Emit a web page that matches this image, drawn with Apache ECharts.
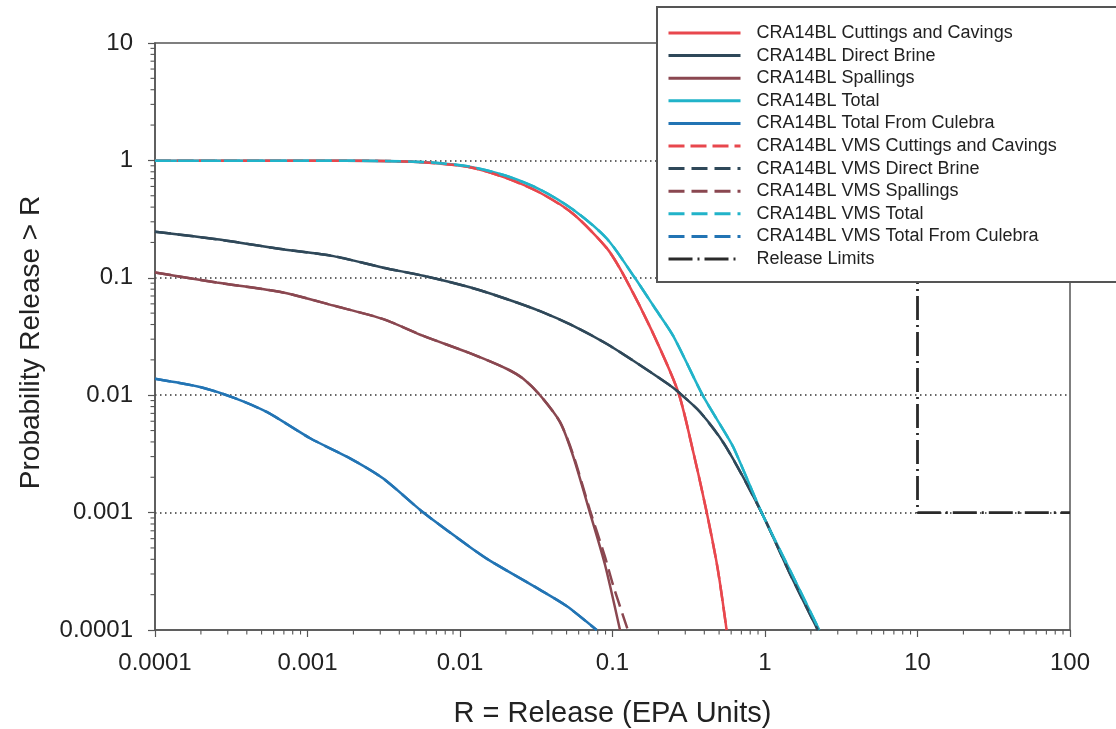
<!DOCTYPE html>
<html><head><meta charset="utf-8">
<script src="https://cdn.jsdelivr.net/npm/echarts@6/dist/echarts.min.js"></script>
<style>html,body{margin:0;padding:0;background:#fff}#c{width:1116px;height:729px}</style>
</head><body><div id="c"></div>
<script>
const xTickLabels = ['0.0001','0.001','0.01','0.1','1','10','100'];
const yTickLabels = ['0.0001','0.001','0.01','0.1','1','10'];
const xAxisTitle = 'R = Release (EPA Units)';
const yAxisTitle = 'Probability Release > R';

const seriesNames = [
  'CRA14BL Cuttings and Cavings','CRA14BL Direct Brine','CRA14BL Spallings','CRA14BL Total',
  'CRA14BL Total From Culebra','CRA14BL VMS Cuttings and Cavings','CRA14BL VMS Direct Brine',
  'CRA14BL VMS Spallings','CRA14BL VMS Total','CRA14BL VMS Total From Culebra','Release Limits'
];

const cuttingsCavings = [[1e-4,0.995],[1e-3,0.995],[3e-3,0.99],[6e-3,0.96],[0.0116,0.875],[0.02,0.71],[0.0335,0.53],[0.0553,0.35],[0.092,0.178],[0.121,0.1],[0.18,0.036],[0.27,0.0106],[0.34,0.0032],[0.415,0.001],[0.49,0.00033],[0.56,0.0001]];
const directBrine = [[1e-4,0.247],[2.54e-4,0.213],[6.9e-4,0.175],[1.48e-3,0.153],[3.14e-3,0.122],[5.75e-3,0.104],[0.0116,0.083],[0.0202,0.066],[0.0335,0.052],[0.0553,0.039],[0.092,0.0273],[0.151,0.0181],[0.23,0.0125],[0.269,0.0107],[0.375,0.0072],[0.55,0.0037],[0.95,0.001],[1.46,0.0003],[2.22,0.0001]];
const spallings = [[1e-4,0.111],[2.54e-4,0.091],[6.9e-4,0.075],[1.48e-3,0.058],[3.14e-3,0.0445],[5.75e-3,0.032],[0.0116,0.0228],[0.0202,0.0168],[0.026,0.0138],[0.0335,0.0100],[0.0453,0.0059],[0.0553,0.0030],[0.0711,0.001],[0.0893,0.00036],[0.112,0.0001]];
const total = [[1e-4,0.995],[1e-3,0.995],[3e-3,0.99],[6e-3,0.965],[0.0116,0.885],[0.02,0.74],[0.0335,0.565],[0.0553,0.38],[0.092,0.215],[0.14,0.1],[0.19,0.055],[0.25,0.032],[0.39,0.01],[0.5,0.0058],[0.62,0.0036],[0.95,0.001],[1.5,0.0003],[2.27,0.0001]];
const totalCulebra = [[1e-4,0.0138],[2e-4,0.0117],[3.3e-4,0.0095],[5.4e-4,0.0072],[1.04e-3,0.0043],[1.9e-3,0.0029],[3.14e-3,0.00195],[5.75e-3,0.001],[0.0116,0.00051],[0.0157,0.00039],[0.0335,0.00022],[0.05,0.00016],[0.0787,0.0001]];
const vmsCuttingsCavings = [[1e-4,0.995],[1e-3,0.995],[3e-3,0.99],[6e-3,0.96],[0.0116,0.875],[0.02,0.71],[0.0335,0.53],[0.0553,0.35],[0.092,0.178],[0.121,0.1],[0.18,0.036],[0.27,0.0106],[0.34,0.0032],[0.415,0.001],[0.49,0.00033],[0.56,0.0001]];
const vmsDirectBrine = [[1e-4,0.247],[2.54e-4,0.213],[6.9e-4,0.175],[1.48e-3,0.153],[3.14e-3,0.122],[5.75e-3,0.104],[0.0116,0.083],[0.0202,0.066],[0.0335,0.052],[0.0553,0.039],[0.092,0.0273],[0.151,0.0181],[0.23,0.0125],[0.269,0.0107],[0.375,0.0072],[0.55,0.0037],[0.95,0.001],[1.46,0.0003],[2.22,0.0001]];
const vmsSpallings = [[1e-4,0.111],[2.54e-4,0.091],[6.9e-4,0.075],[1.48e-3,0.058],[3.14e-3,0.0445],[5.75e-3,0.032],[0.0116,0.0228],[0.0202,0.0168],[0.026,0.0138],[0.0335,0.0100],[0.0453,0.0059],[0.0553,0.0031],[0.0711,0.00105],[0.0893,0.00042],[0.101,0.00024],[0.126,0.0001]];
const vmsTotal = [[1e-4,0.995],[1e-3,0.995],[3e-3,0.99],[6e-3,0.965],[0.0116,0.885],[0.02,0.74],[0.0335,0.565],[0.0553,0.38],[0.092,0.215],[0.14,0.1],[0.19,0.055],[0.25,0.032],[0.39,0.01],[0.5,0.0058],[0.62,0.0036],[0.95,0.001],[1.5,0.0003],[2.27,0.0001]];
const vmsTotalCulebra = [[1e-4,0.0138],[2e-4,0.0117],[3.3e-4,0.0095],[5.4e-4,0.0072],[1.04e-3,0.0043],[1.9e-3,0.0029],[3.14e-3,0.00195],[5.75e-3,0.001],[0.0116,0.00051],[0.0157,0.00039],[0.0335,0.00022],[0.05,0.00016],[0.0787,0.0001]];
const releaseLimits = [[1,1],[1,0.1],[10,0.1],[10,0.001],[100,0.001]];

const colors = {
  cc:'#e8474d', db:'#2f4859', sp:'#8a4750', tot:'#21b3c9', cul:'#2274b4', rl:'#2a2a2a'
};
const FONT = "'Liberation Sans', Arial, sans-serif";

function labelOf(list){
  return function(v){
    const hit = list.find(l => Math.abs(parseFloat(l)/v - 1) < 1e-6);
    return hit || '';
  };
}

const xMin = parseFloat(xTickLabels[0]), xMax = parseFloat(xTickLabels[xTickLabels.length-1]);
const yMin = parseFloat(yTickLabels[0]), yMax = parseFloat(yTickLabels[yTickLabels.length-1]);

// minor (log) tick positions derived from the tick labels
const minorTicks = [];
xTickLabels.slice(0,-1).forEach(l => { const d = parseFloat(l); for (let k=2;k<=9;k++) minorTicks.push([k*d, yMin, 0]); });
yTickLabels.slice(0,-1).forEach(l => { const d = parseFloat(l); for (let k=2;k<=9;k++) minorTicks.push([xMin, k*d, 1]); });

function lineSeries(name, data, color, type, width, z){
  return {
    name, type:'line', data, symbol:'none', smooth:0.25, z: z||2,
    lineStyle:{color, width: width||2.5, type: type||'solid'},
    itemStyle:{color}, emphasis:{disabled:true}, animation:false
  };
}

const chart = echarts.init(document.getElementById('c'), null, {renderer:'canvas'});
chart.setOption({
  animation:false,
  backgroundColor:'#fff',
  grid:{left:155, right:46, top:43, bottom:99, outerBoundsMode:'none', containLabel:false,
        show:true, borderColor:'#555', borderWidth:1.5, backgroundColor:'transparent'},
  xAxis:{
    type:'log', logBase:10, min:xMin, max:xMax,
    name:xAxisTitle, nameLocation:'middle', nameGap:69,
    nameTextStyle:{fontFamily:FONT, fontSize:29, color:'#222'},
    axisLine:{show:true, lineStyle:{color:'#555', width:1.5}},
    axisTick:{show:true, inside:false, length:7, lineStyle:{color:'#555', width:1.2}},
    axisLabel:{formatter:labelOf(xTickLabels), fontFamily:FONT, fontSize:24, color:'#222', margin:21},
    splitLine:{show:false}
  },
  yAxis:{
    type:'log', logBase:10, min:yMin, max:yMax,
    name:yAxisTitle, nameLocation:'middle', nameGap:110,
    nameTextStyle:{fontFamily:FONT, fontSize:28, color:'#222', padding:[0,12,0,0]},
    axisLine:{show:true, lineStyle:{color:'#555', width:1.5}},
    axisTick:{show:true, inside:false, length:7, lineStyle:{color:'#555', width:1.2}},
    axisLabel:{formatter:labelOf(yTickLabels), fontFamily:FONT, fontSize:24, color:'#222', margin:22},
    splitLine:{show:true, showMinLine:false, showMaxLine:false, lineStyle:{color:'#333', width:1.5, type:[1.5,3.5]}}
  },
  legend:{
    data:seriesNames, orient:'vertical', left:657, top:7,
    backgroundColor:'#fff', borderColor:'#555', borderWidth:2,
    padding:[17,90,14,10], itemWidth:72, itemHeight:12, itemGap:4.6,
    itemStyle:{opacity:0},
    lineStyle:{width:3},
    textStyle:{fontFamily:FONT, fontSize:18, lineHeight:18, color:'#222', padding:[0,0,0,11]},
    selectedMode:false
  },
  series:[
    lineSeries(seriesNames[0], cuttingsCavings, colors.cc, 'solid', 2.5, 2),
    lineSeries(seriesNames[1], directBrine, colors.db, 'solid', 2.5, 2),
    lineSeries(seriesNames[2], spallings, colors.sp, 'solid', 2.5, 2),
    lineSeries(seriesNames[3], total, colors.tot, 'solid', 2.5, 2),
    lineSeries(seriesNames[4], totalCulebra, colors.cul, 'solid', 2.5, 2),
    lineSeries(seriesNames[5], vmsCuttingsCavings, colors.cc, [16,6], 2.5, 3),
    lineSeries(seriesNames[6], vmsDirectBrine, colors.db, [16,7], 2.5, 3),
    lineSeries(seriesNames[7], vmsSpallings, colors.sp, [16,7], 2.5, 3),
    lineSeries(seriesNames[8], vmsTotal, colors.tot, [16,7], 2.5, 3),
    lineSeries(seriesNames[9], vmsTotalCulebra, colors.cul, [16,7], 2.5, 3),
    Object.assign(lineSeries(seriesNames[10], releaseLimits, colors.rl, [24,5,2,5], 2.8, 3), {smooth:false}),
    {
      type:'custom', name:'minorTicks', data:minorTicks, clip:false, silent:true, z:5,
      renderItem:function(params, api){
        const p = api.coord([api.value(0), api.value(1)]);
        const isY = api.value(2) === 1;
        const len = 4.5;
        return {
          type:'line',
          shape: isY ? {x1:p[0]-len, y1:p[1], x2:p[0], y2:p[1]} : {x1:p[0], y1:p[1], x2:p[0], y2:p[1]+len},
          style:{stroke:'#555', lineWidth:1.1}
        };
      }
    }
  ]
});
</script></body></html>
